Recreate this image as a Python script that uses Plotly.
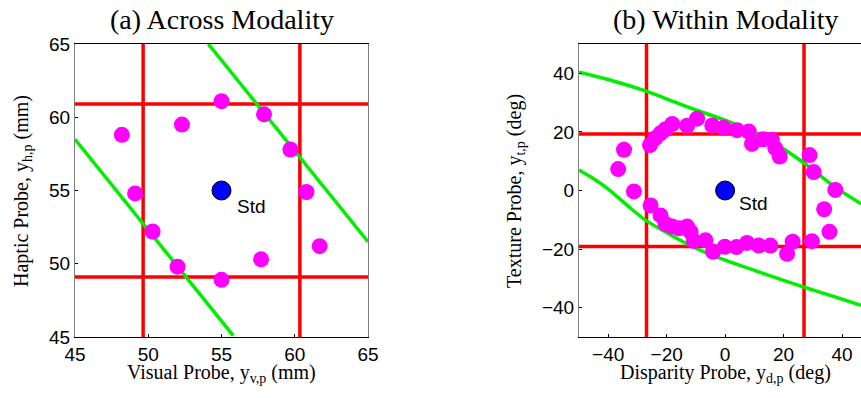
import plotly.graph_objects as go

# ---------------- data: (a) Across Modality ----------------
a_probe_x = [48.2, 52.3, 55.0, 57.9, 59.7, 60.8, 61.7, 57.7, 55.0, 52.0, 50.3, 49.1]
a_probe_y = [58.8, 59.5, 61.1, 60.2, 57.8, 54.9, 51.2, 50.3, 48.9, 49.8, 52.2, 54.8]
a_std = [55.0, 55.0]
a_red_x = [49.65, 60.35]
a_red_y = [49.1, 60.9]
a_green1_x = [54.1, 65.0]
a_green1_y = [65.0, 51.5]
a_green2_x = [45.0, 55.8]
a_green2_y = [58.5, 45.1]
a_ticks = [45, 50, 55, 60, 65]

# ---------------- data: (b) Within Modality ----------------
b_probe_x = [-34.6, -36.6, -31.2,
             -25.7, -23.8, -22.1, -20.4, -18.1, -13.0, -9.6, -4.4, -0.5, 4.1, 8.1, 9.2, 13.0, 16.0, 17.2, 18.7,
             28.9, 30.3, 37.7, 33.9, 35.7, 29.7,
             -25.5, -22.1, -20.4, -18.1, -15.8, -13.0, -11.8, -10.7, -6.7, -4.1, -0.1, 3.9, 7.5, 11.5, 15.5, 21.2, 23.1]
b_probe_y = [13.9, 7.3, -0.3,
             15.5, 17.9, 19.5, 20.9, 22.7, 22.1, 24.5, 22.2, 21.4, 20.6, 20.1, 15.9, 17.5, 17.3, 14.4, 11.6,
             12.1, 6.3, 0.2, -6.4, -14.1, -17.3,
             -5.1, -8.5, -11.4, -12.3, -12.9, -12.3, -14.1, -17.2, -17.0, -20.9, -19.2, -19.3, -17.9, -18.8, -18.8, -21.6, -17.5]
b_std = [0.0, 0.0]
b_red_x = [-26.9, 27.0]
b_red_y = [-19.1, 19.3]
b_up_x = [-50, -40, -27, -17.5, -9.5, 0, 8, 17, 27, 37, 46.5]
b_up_y = [40.4, 37.9, 33.9, 30.3, 27.3, 24.0, 20.5, 16.0, 9.4, 1.6, -4.5]
b_lo_x = [-50, -45, -40, -33, -27, -18, -10, 0, 13, 27, 36, 46.5]
b_lo_y = [7.0, 4.0, 0.5, -5.5, -10.3, -15.5, -19.7, -23.8, -28.3, -33.0, -35.8, -39.2]
b_ticks = [-40, -20, 0, 20, 40]

W, H = 861, 398
RED = "#ff0000"
GREEN = "#00ee00"
MAG = "#ff00ff"
SERIF = "Liberation Serif, Times New Roman, serif"
SANS = "Liberation Sans, Arial, sans-serif"

fig = go.Figure()

def panel(xa, ya, rx, ry, g_lines, px, py, std, std_text_xy, xr, yr):
    xs, ys = ("x", "y") if xa == "x" else ("x2", "y2")
    for v in rx:
        fig.add_trace(go.Scatter(x=[v, v], y=yr, mode="lines", line=dict(color=RED, width=3.5),
                                 xaxis=xs, yaxis=ys, hoverinfo="skip", showlegend=False))
    for v in ry:
        fig.add_trace(go.Scatter(x=xr, y=[v, v], mode="lines", line=dict(color=RED, width=3.5),
                                 xaxis=xs, yaxis=ys, hoverinfo="skip", showlegend=False))
    for gx, gy in g_lines:
        fig.add_trace(go.Scatter(x=gx, y=gy, mode="lines",
                                 line=dict(color=GREEN, width=3.5, shape="spline", smoothing=0.8),
                                 xaxis=xs, yaxis=ys, hoverinfo="skip", showlegend=False))
    fig.add_trace(go.Scatter(x=px, y=py, mode="markers",
                             marker=dict(color=MAG, size=16, line=dict(width=0)),
                             xaxis=xs, yaxis=ys, showlegend=False, cliponaxis=False))
    fig.add_trace(go.Scatter(x=[std[0]], y=[std[1]], mode="markers",
                             marker=dict(color="#0000ff", size=19, line=dict(color="black", width=1)),
                             xaxis=xs, yaxis=ys, showlegend=False))
    fig.add_annotation(x=std_text_xy[0], y=std_text_xy[1], xref=xs, yref=ys, text="Std",
                       showarrow=False, xanchor="left", yanchor="middle",
                       font=dict(family=SANS, size=19, color="black"))

panel("x", "y", a_red_x, a_red_y,
      [(a_green1_x, a_green1_y), (a_green2_x, a_green2_y)],
      a_probe_x, a_probe_y, a_std, (55.95, 53.9), [45, 65], [45, 65])
panel("x2", "y2", b_red_x, b_red_y,
      [(b_up_x, b_up_y), (b_lo_x, b_lo_y)],
      b_probe_x, b_probe_y, b_std, (4.2, -4.3), [-50, 46.5], [-50, 50])

ydom = [(H - 337) / H, (H - 44) / H]
tickfont = dict(family=SANS, size=19, color="black")
common = dict(showgrid=False, zeroline=False, ticks="inside", ticklen=3, tickwidth=1,
              tickcolor="black", tickfont=tickfont, showline=True, linewidth=1,
              automargin=False)

fig.update_layout(
    width=W, height=H, margin=dict(l=0, r=0, t=0, b=0, pad=0, autoexpand=False),
    paper_bgcolor="white", plot_bgcolor="white",
    xaxis=dict(domain=[75 / W, 368 / W], range=[45, 65], tickvals=a_ticks,
               linecolor="black", mirror=True, anchor="y", **common),
    yaxis=dict(domain=ydom, range=[45, 65], tickvals=a_ticks,
               linecolor="#808080", mirror=True, anchor="x", **common),
    xaxis2=dict(domain=[579 / W, 1.0], range=[-50, 46.5], tickvals=b_ticks,
                linecolor="black", mirror=True, anchor="y2", **common),
    yaxis2=dict(domain=ydom, range=[-50, 50], tickvals=b_ticks,
                linecolor="#808080", mirror=False, anchor="x2", **common),
)

def pap(xpx, ypx):
    return xpx / W, 1 - ypx / H

labels = [
    ("(a) Across Modality", 221.5, 19, 28, 0),
    ("(b) Within Modality", 725, 19, 28, 0),
    ("Visual Probe, y<sub>v,p</sub> (mm)", 221.5, 373, 20, 0),
    ("Disparity Probe, y<sub>d,p</sub> (deg)", 725.5, 373, 20, 0),
    ("Haptic Probe, y<sub>h,p</sub> (mm)", 22, 191, 20, -90),
    ("Texture Probe, y<sub>t,p</sub> (deg)", 515, 191, 20, -90),
]
for text, xp, yp, size, ang in labels:
    x, y = pap(xp, yp)
    fig.add_annotation(x=x, y=y, xref="paper", yref="paper", text=text, showarrow=False,
                       xanchor="center", yanchor="middle", textangle=ang,
                       font=dict(family=SERIF, size=size, color="black"))

fig.write_html("out.html")
